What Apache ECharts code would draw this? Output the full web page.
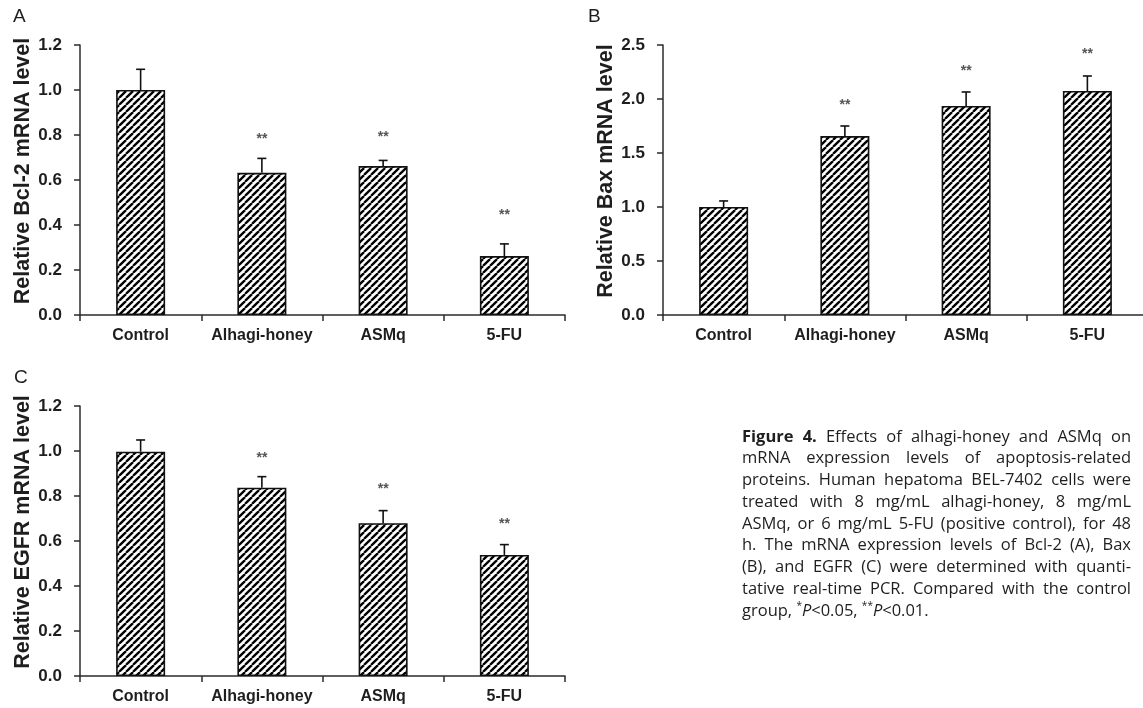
<!DOCTYPE html>
<html><head><meta charset="utf-8">
<script src="https://cdn.jsdelivr.net/npm/echarts@6/dist/echarts.min.js"></script>
<style>html,body{margin:0;padding:0;background:#fff}#c{width:1143px;height:708px}</style>
</head><body><div id="c"></div>
<script>
// ---------------- data ----------------
const categories = ['Control', 'Alhagi-honey', 'ASMq', '5-FU'];

const bcl2Mean = [1.0, 0.632, 0.662, 0.262];
const bcl2Err  = [0.092, 0.064, 0.025, 0.054];
const bcl2Star = [null, 0.79, 0.80, 0.453];
const bcl2Ticks = [0.0, 0.2, 0.4, 0.6, 0.8, 1.0, 1.2];

const baxMean = [1.0, 1.657, 1.935, 2.074];
const baxErr  = [0.056, 0.093, 0.13, 0.139];
const baxStar = [null, 1.966, 2.278, 2.438];
const baxTicks = [0.0, 0.5, 1.0, 1.5, 2.0, 2.5];

const egfrMean = [0.997, 0.837, 0.679, 0.538];
const egfrErr  = [0.052, 0.049, 0.056, 0.046];
const egfrStar = [null, 0.978, 0.841, 0.686];
const egfrTicks = [0.0, 0.2, 0.4, 0.6, 0.8, 1.0, 1.2];

const panelLetters = ['A', 'B', 'C'];
const yNames = ['Relative Bcl-2 mRNA level', 'Relative Bax mRNA level', 'Relative EGFR mRNA level'];
const starText = '**';

const captionLines = [
  [[['Figure', 'b']], [['4.', 'b']], 'Effects', 'of', 'alhagi-honey', 'and', 'ASMq', 'on'],
  ['mRNA', 'expression', 'levels', 'of', 'apoptosis-related'],
  ['proteins.', 'Human', 'hepatoma', 'BEL-7402', 'cells', 'were'],
  ['treated', 'with', '8', 'mg/mL', 'alhagi-honey,', '8', 'mg/mL'],
  ['ASMq,', 'or', '6', 'mg/mL', '5-FU', '(positive', 'control),', 'for', '48'],
  ['h.', 'The', 'mRNA', 'expression', 'levels', 'of', 'Bcl-2', '(A),', 'Bax'],
  ['(B),', 'and', 'EGFR', '(C)', 'were', 'determined', 'with', 'quanti-'],
  ['tative', 'real-time', 'PCR.', 'Compared', 'with', 'the', 'control'],
  ['group,', [['*', 'sup'], ['P', 'i'], ['<0.05,', 'n']], [['**', 'sup'], ['P', 'i'], ['<0.01.', 'n']]]
];

// ---------------- styling / layout ----------------
const AX = '#2b2b2b';
const TXT = '#1e1e1e';
const ARIAL = 'Liberation Sans';
const CAP_FONT = 'Open Sans';

const panels = [
  { mean: bcl2Mean, err: bcl2Err, star: bcl2Star, ticks: bcl2Ticks, grid: { left: 80, top: 45, width: 485, height: 270 }, letter: [13, 16.5] },
  { mean: baxMean, err: baxErr, star: baxStar, ticks: baxTicks, grid: { left: 663, top: 45, width: 485, height: 270 }, letter: [588, 16.5] },
  { mean: egfrMean, err: egfrErr, star: egfrStar, ticks: egfrTicks, grid: { left: 80, top: 406, width: 485, height: 270 }, letter: [14, 377.5] }
];

function hatch() {
  const s = 7, c = document.createElement('canvas');
  c.width = s; c.height = s;
  const g = c.getContext('2d');
  g.fillStyle = '#fff'; g.fillRect(0, 0, s, s);
  g.strokeStyle = '#000'; g.lineWidth = 2.3;
  for (const k of [-s, 0, s]) { g.beginPath(); g.moveTo(k, s); g.lineTo(k + s, 0); g.stroke(); }
  return c;
}
const hatchImg = hatch();

const grids = [], xAxes = [], yAxes = [], series = [], graphics = [];
panels.forEach((p, i) => {
  grids.push(Object.assign({ outerBoundsMode: 'none', containLabel: false }, p.grid));
  xAxes.push({
    type: 'category', gridIndex: i, data: categories, boundaryGap: true,
    axisLine: { show: true, lineStyle: { color: AX, width: 1.5 } },
    axisTick: { show: true, length: 6, alignWithLabel: false, interval: 0, lineStyle: { color: AX, width: 1.5 } },
    axisLabel: { color: TXT, fontWeight: 'bold', fontSize: 16, fontFamily: ARIAL, margin: 13, interval: 0 },
    splitLine: { show: false }
  });
  const t = p.ticks;
  yAxes.push({
    type: 'value', gridIndex: i, min: t[0], max: t[t.length - 1], interval: t[1] - t[0],
    name: yNames[i], nameLocation: 'middle', nameGap: 43, nameRotate: 90,
    nameTextStyle: { fontSize: 21.5, fontWeight: 'bold', color: TXT, fontFamily: ARIAL, padding: [0, 0, 0, 18] },
    axisLine: { show: true, lineStyle: { color: AX, width: 1.5 } },
    axisTick: { show: true, length: 6, inside: false, lineStyle: { color: AX, width: 1.5 } },
    axisLabel: { color: TXT, fontWeight: 'bold', fontSize: 17, fontFamily: ARIAL, margin: 18, formatter: v => v.toFixed(1) },
    splitLine: { show: false }
  });
  series.push({
    type: 'bar', xAxisIndex: i, yAxisIndex: i, data: p.mean, barWidth: 49,
    itemStyle: { color: { image: hatchImg, repeat: 'repeat' }, borderColor: '#111', borderWidth: 1.6 },
    emphasis: { disabled: true }, z: 2
  });
  series.push({
    type: 'custom', xAxisIndex: i, yAxisIndex: i, z: 3,
    data: p.mean.map((m, k) => [k, m, p.err[k]]),
    renderItem: (params, api) => {
      const k = api.value(0), m = api.value(1), e = api.value(2);
      const base = api.coord([k, m]), top = api.coord([k, m + e]);
      const st = { stroke: '#111', lineWidth: 1.6 };
      return { type: 'group', children: [
        { type: 'line', shape: { x1: top[0], y1: base[1], x2: top[0], y2: top[1] }, style: st },
        { type: 'line', shape: { x1: top[0] - 4.5, y1: top[1], x2: top[0] + 4.5, y2: top[1] }, style: st }
      ] };
    }
  });
  series.push({
    type: 'custom', xAxisIndex: i, yAxisIndex: i, z: 3,
    data: p.star.map((s, k) => [k, s]).filter(d => d[1] != null),
    renderItem: (params, api) => {
      const pt = api.coord([api.value(0), api.value(1)]);
      return { type: 'text', x: pt[0], y: pt[1] + 2, style: { text: starText, font: 'bold 14px ' + ARIAL, fill: '#555', align: 'center', verticalAlign: 'middle' } };
    }
  });
  graphics.push({ type: 'text', x: p.letter[0], y: p.letter[1], style: { text: panelLetters[i], font: '19px ' + ARIAL, fill: TXT, align: 'left', verticalAlign: 'middle' } });
});

// ---------------- caption (justified) ----------------
const measureCtx = document.createElement('canvas').getContext('2d');
const CAP_SIZE = 16.5;
function fontFor(st) {
  if (st === 'b') return 'bold ' + CAP_SIZE + 'px "' + CAP_FONT + '"';
  if (st === 'i') return 'italic ' + CAP_SIZE + 'px "' + CAP_FONT + '"';
  if (st === 'sup') return '10px "' + CAP_FONT + '"';
  return CAP_SIZE + 'px "' + CAP_FONT + '"';
}
function segs(word) { return typeof word === 'string' ? [[word, 'n']] : word; }
function w(text, st) { measureCtx.font = fontFor(st); return measureCtx.measureText(text).width; }
const capLeft = 742, capRight = 1131, capTop = 437, capStep = 21.75;
measureCtx.font = fontFor('n');
const spaceW = measureCtx.measureText(' ').width;
captionLines.forEach((line, li) => {
  const widths = line.map(word => segs(word).reduce((a, s) => a + w(s[0], s[1]), 0));
  const total = widths.reduce((a, b) => a + b, 0);
  const last = li === captionLines.length - 1;
  const gap = last ? spaceW : Math.max(2, (capRight - capLeft - total) / (line.length - 1));
  let x = capLeft;
  const y = capTop + li * capStep;
  line.forEach((word, wi) => {
    segs(word).forEach(s => {
      graphics.push({ type: 'text', x: x, y: s[1] === 'sup' ? y - 5 : y,
        style: { text: s[0], font: fontFor(s[1]), fill: TXT, align: 'left', verticalAlign: 'middle' } });
      x += w(s[0], s[1]);
    });
    x += gap;
  });
});

const chart = echarts.init(document.getElementById('c'), null, { renderer: 'canvas' });
chart.setOption({
  animation: false,
  backgroundColor: '#fff',
  grid: grids, xAxis: xAxes, yAxis: yAxes, series: series,
  graphic: graphics,
  tooltip: { show: false }
});
</script>
</body></html>
